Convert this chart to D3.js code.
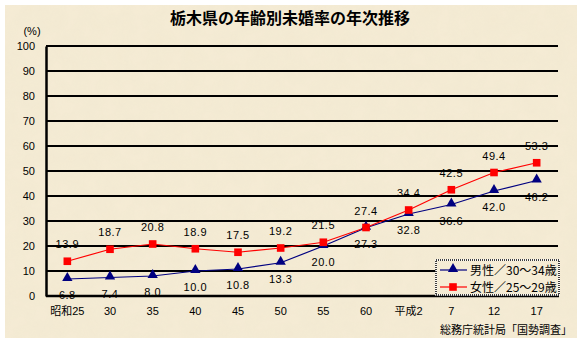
<!DOCTYPE html>
<html>
<head>
<meta charset="utf-8">
<script src="https://cdn.jsdelivr.net/npm/d3@7/dist/d3.min.js"></script>
<style>
  html, body { margin: 0; padding: 0; background: #ffffff; }
  svg { display: block; }
  text { font-family: "Liberation Sans", "DejaVu Sans", sans-serif; }
  .jp { font-family: "Noto Sans CJK JP", sans-serif; }
</style>
</head>
<body>
<script>
// 調査年（昭和25年〜平成17年）
const years = ["昭和25", "30", "35", "40", "45", "50", "55", "60", "平成2", "7", "12", "17"];
// 男性 30〜34歳 未婚率（%）
const male3034 = [6.8, 7.4, 8.0, 10.0, 10.8, 13.3, 20.0, 27.3, 32.8, 36.6, 42.0, 46.2];
// 女性 25〜29歳 未婚率（%）
const female2529 = [13.9, 18.7, 20.8, 18.9, 17.5, 19.2, 21.5, 27.4, 34.4, 42.5, 49.4, 53.3];
const yTicks = [0, 10, 20, 30, 40, 50, 60, 70, 80, 90, 100];
const seriesNames = ["男性／30～34歳", "女性／25～29歳"];

const W = 585, H = 344;
const plot = { left: 46, right: 558, top: 46, bottom: 296 };

const svg = d3.select("body").append("svg").attr("width", W).attr("height", H);

// parchment background with a soft mottled texture
const defs = svg.append("defs");
const f = defs.append("filter").attr("id", "paper").attr("x", 0).attr("y", 0).attr("width", 1).attr("height", 1);
f.append("feTurbulence").attr("type", "fractalNoise").attr("baseFrequency", 0.06).attr("numOctaves", 3).attr("seed", 4).attr("result", "n");
f.append("feColorMatrix").attr("in", "n").attr("type", "matrix")
  .attr("values", "0 0 0 0 0.78  0 0 0 0 0.70  0 0 0 0 0.52  0 0 0 0.18 0");
svg.append("rect").attr("x", 5).attr("y", 5).attr("width", 572).attr("height", 333).attr("fill", "#f5ecd5");
svg.append("rect").attr("x", 5).attr("y", 5).attr("width", 572).attr("height", 333).attr("filter", "url(#paper)").attr("opacity", 0.9);

const x = d3.scaleBand().domain(years).range([plot.left, plot.right]);
const cx = d => x(d) + x.bandwidth() / 2;
const y = d3.scaleLinear().domain([0, 100]).range([plot.bottom, plot.top]);

// title
svg.append("text").attr("class", "jp").attr("x", 290).attr("y", 24)
  .attr("text-anchor", "middle").attr("font-size", 16).attr("font-weight", "bold")
  .text("栃木県の年齢別未婚率の年次推移");

svg.append("text").attr("x", 32).attr("y", 35).attr("text-anchor", "middle")
  .attr("font-size", 11).text("(%)");

// gridlines
svg.append("g").selectAll("line").data(yTicks.filter(t => t > 0)).join("line")
  .attr("x1", plot.left).attr("x2", plot.right)
  .attr("y1", d => y(d)).attr("y2", d => y(d))
  .attr("stroke", "#000").attr("stroke-width", 2);

// y axis
const yAxis = d3.axisLeft(y).tickValues(yTicks).tickSize(0).tickPadding(11);
const gy = svg.append("g").attr("transform", `translate(${plot.left},0)`).call(yAxis);
gy.select(".domain").attr("stroke", "#000").attr("stroke-width", 2.5);
gy.selectAll("text").attr("font-size", 11).attr("fill", "#000")
  .style("font-family", "'Liberation Sans', sans-serif");

// x axis
const xAxis = d3.axisBottom(x).tickSize(0).tickPadding(11);
const gx = svg.append("g").attr("transform", `translate(0,${plot.bottom})`).call(xAxis);
gx.select(".domain").attr("stroke", "#000").attr("stroke-width", 2.5)
  .attr("d", `M${plot.left},0H${plot.right + 1}`);
gx.selectAll("text").attr("font-size", 11).attr("fill", "#000")
  .style("font-family", "'Liberation Sans', 'Noto Sans CJK JP', sans-serif");

const line = d3.line().x((d, i) => cx(years[i])).y(d => y(d));

// male series
svg.append("path").datum(male3034).attr("d", line)
  .attr("fill", "none").attr("stroke", "#000080").attr("stroke-width", 1.2);
// female series
svg.append("path").datum(female2529).attr("d", line)
  .attr("fill", "none").attr("stroke", "#ff0000").attr("stroke-width", 1.2);

const tri = d3.symbol().type(d3.symbolTriangle).size(46);
const sq = d3.symbol().type(d3.symbolSquare).size(58);

svg.append("g").selectAll("path").data(male3034).join("path")
  .attr("d", tri).attr("fill", "#000080")
  .attr("transform", (d, i) => `translate(${cx(years[i])},${y(d) - 1})`);
svg.append("g").selectAll("path").data(female2529).join("path")
  .attr("d", sq).attr("fill", "#ff0000")
  .attr("transform", (d, i) => `translate(${cx(years[i])},${y(d)})`);

// value labels
svg.append("g").selectAll("text").data(female2529).join("text")
  .attr("x", (d, i) => cx(years[i])).attr("y", d => y(d) - 13)
  .attr("text-anchor", "middle").attr("font-size", 11).attr("letter-spacing", 0.5)
  .text(d => d.toFixed(1));
svg.append("g").selectAll("text").data(male3034).join("text")
  .attr("x", (d, i) => cx(years[i])).attr("y", d => y(d) + 20)
  .attr("text-anchor", "middle").attr("font-size", 11).attr("letter-spacing", 0.5)
  .text(d => d.toFixed(1));

// legend
const lg = svg.append("g").attr("transform", "translate(436,260)");
lg.append("rect").attr("width", 123).attr("height", 35).attr("fill", "#f5ecd5")
  .attr("stroke", "#fff").attr("stroke-width", 1.5);
lg.append("rect").attr("width", 123).attr("height", 35).attr("fill", "none")
  .attr("stroke", "#000").attr("stroke-width", 1.5).attr("stroke-dasharray", "1,1");
const items = [
  { name: seriesNames[0], color: "#000080", sym: tri, dy: -1 },
  { name: seriesNames[1], color: "#ff0000", sym: sq, dy: 0 }
];
items.forEach((it, i) => {
  const yy = 10 + i * 17;
  lg.append("line").attr("x1", 4).attr("x2", 31).attr("y1", yy).attr("y2", yy)
    .attr("stroke", it.color).attr("stroke-width", 1.2);
  lg.append("path").attr("d", it.sym).attr("fill", it.color)
    .attr("transform", `translate(17,${yy + it.dy})`);
  lg.append("text").attr("class", "jp").attr("x", 34).attr("y", yy + 5)
    .attr("font-size", 12).text(it.name);
});

// source note
svg.append("text").attr("class", "jp").attr("x", 572).attr("y", 334)
  .attr("text-anchor", "end").attr("font-size", 11).text("総務庁統計局「国勢調査」");
</script>
</body>
</html>
